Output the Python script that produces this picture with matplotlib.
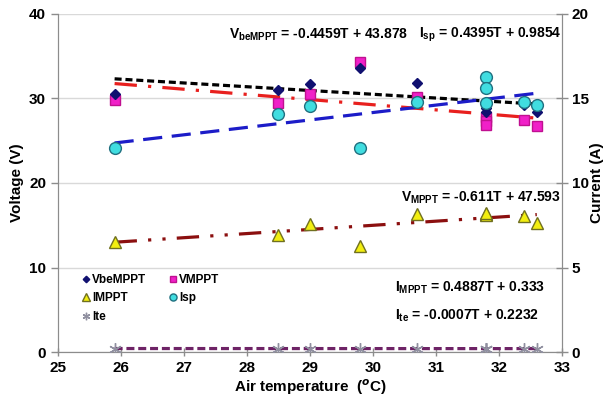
import numpy as np
import matplotlib.pyplot as plt

plt.rcParams['font.family'] = 'Liberation Sans'
plt.rcParams['font.weight'] = 'bold'
plt.rcParams['mathtext.fontset'] = 'custom'
plt.rcParams['mathtext.rm'] = 'Liberation Sans:bold'
plt.rcParams['mathtext.bf'] = 'Liberation Sans:bold'

# data
temp = [25.9, 28.5, 29.0, 29.8, 30.7, 31.8, 31.8, 31.8, 32.4, 32.6]
v_be_mppt = [30.5, 31.0, 31.7, 33.6, 31.8, 29.2, 28.9, 28.4, 29.2, 28.4]
v_mppt = [29.8, 29.5, 30.5, 34.3, 30.2, 27.8, 27.3, 26.9, 27.5, 26.8]
i_mppt = [13.0, 13.8, 15.1, 12.5, 16.3, 16.3, 16.2, 16.4, 16.1, 15.3]   # drawn on voltage scale
i_sp = [12.07, 14.1, 14.56, 12.07, 14.8, 16.25, 15.65, 14.75, 14.8, 14.6]
i_te = [0.2, 0.2, 0.2, 0.2, 0.2, 0.2, 0.2, 0.2, 0.2, 0.2]

# trendline coefficients (slope, intercept) from the chart labels
fit_vbe = [-0.4459, 43.878]
fit_vmppt = [-0.611, 47.593]
fit_imppt = [0.4887, 0.333]
fit_isp = [0.4395, 0.9854]
fit_ite = [-0.0007, 0.2232]

fig = plt.figure(figsize=(6.03, 4.0), dpi=100)
ax1 = fig.add_axes([0.096, 0.12, 0.836, 0.845])
ax2 = ax1.twinx()

tx = np.array([min(temp), max(temp)])
lw = 2.3

# trend lines
ax1.plot(tx, np.polyval(fit_vbe, tx), color='black', lw=lw, dashes=(2.2, 1.2), zorder=2)
ax1.plot(tx, np.polyval(fit_vmppt, tx), color='#E8201E', lw=lw, dashes=(7, 3.5, 1, 3.5), zorder=2)
ax1.plot(tx, np.polyval(fit_imppt, tx), color='#8B0F0F', lw=lw, dashes=(7, 3.5, 1, 3.5, 1, 3.5), zorder=2)
ax2.plot(tx, np.polyval(fit_isp, tx), color='#1C1CC8', lw=lw, dashes=(6, 3), zorder=2)
ax2.plot(tx, np.polyval(fit_ite, tx), color='#6E2366', lw=lw, dashes=(2.5, 1.2), zorder=2)

# points
h1, = ax1.plot(temp, v_be_mppt, 'D', color='#101070', ms=5.5, ls='none', zorder=4, label='VbeMPPT')
h2, = ax1.plot(temp, v_mppt, 's', color='#F020C8', mec='#C01090', ms=7, ls='none', zorder=3, label='VMPPT')
h3, = ax1.plot(temp, i_mppt, '^', color='#F2EE10', mec='#707020', ms=9, ls='none', zorder=3, label='IMPPT')
h4, = ax2.plot(temp, i_sp, 'o', color='#40DDE0', mec='#207080', ms=8.5, ls='none', zorder=3, label='Isp')
h5, = ax2.plot(temp, i_te, marker=(6, 2, 0), color='#9090A0', ms=9, mew=1, ls='none', zorder=3, label='Ite')

ax1.set_xlim(25, 33)
ax1.set_ylim(0, 40)
ax2.set_ylim(0, 20)
ax1.set_xticks(range(25, 34))
ax1.set_yticks([0, 10, 20, 30, 40])
ax2.set_yticks([0, 5, 10, 15, 20])
ax1.yaxis.grid(True, color='#D9D9D9', lw=1)
ax1.set_axisbelow(True)

for ax in (ax1, ax2):
    for s in ax.spines.values():
        s.set_color('#8C8C8C')
    ax.spines['top'].set_visible(False)
    ax.tick_params(labelsize=11, colors='#8C8C8C', labelcolor='black', width=1, length=5)
ax1.tick_params(axis='x', direction='inout', length=6)
ax1.tick_params(axis='y', direction='out')
ax2.tick_params(axis='y', direction='inout', length=8, pad=3)
for lab in ax1.get_xticklabels() + ax1.get_yticklabels() + ax2.get_yticklabels():
    lab.set_fontweight('bold')

ax1.set_xlabel('Air temperature  ($^{o}$C)', fontsize=11, fontweight='bold', labelpad=2)
ax1.set_ylabel('Voltage (V)', fontsize=11, fontweight='bold', labelpad=4)
ax2.set_ylabel('Current (A)', fontsize=11, fontweight='bold', labelpad=1, rotation=90)

eq = dict(fontsize=10, fontweight='bold', transform=ax1.transData, va='center')
ax1.text(27.72, 37.5, r'$\mathregular{V_{beMPPT}}$ = -0.4459T + 43.878', **eq)
ax1.text(30.73, 37.5, r'$\mathregular{I_{sp}}$ = 0.4395T + 0.9854', **eq)
ax1.text(30.45, 18.2, r'$\mathregular{V_{MPPT}}$ = -0.611T + 47.593', **eq)
ax1.text(30.35, 7.6, r'$\mathregular{I_{MPPT}}$ = 0.4887T + 0.333', **eq)
ax1.text(30.35, 4.3, r'$\mathregular{I_{te}}$ = -0.0007T + 0.2232', **eq)

leg = ax2.legend(handles=[h1, h3, h5, h2, h4], ncol=2, loc='upper left',
                 bbox_to_anchor=(0.04, 0.245), frameon=False, fontsize=8.5,
                 handlelength=0.6, handletextpad=0.2, columnspacing=2.0,
                 labelspacing=0.55, markerscale=0.6, borderaxespad=0)
for t in leg.get_texts():
    t.set_fontweight('bold')

fig.savefig('out.png', dpi=100)
